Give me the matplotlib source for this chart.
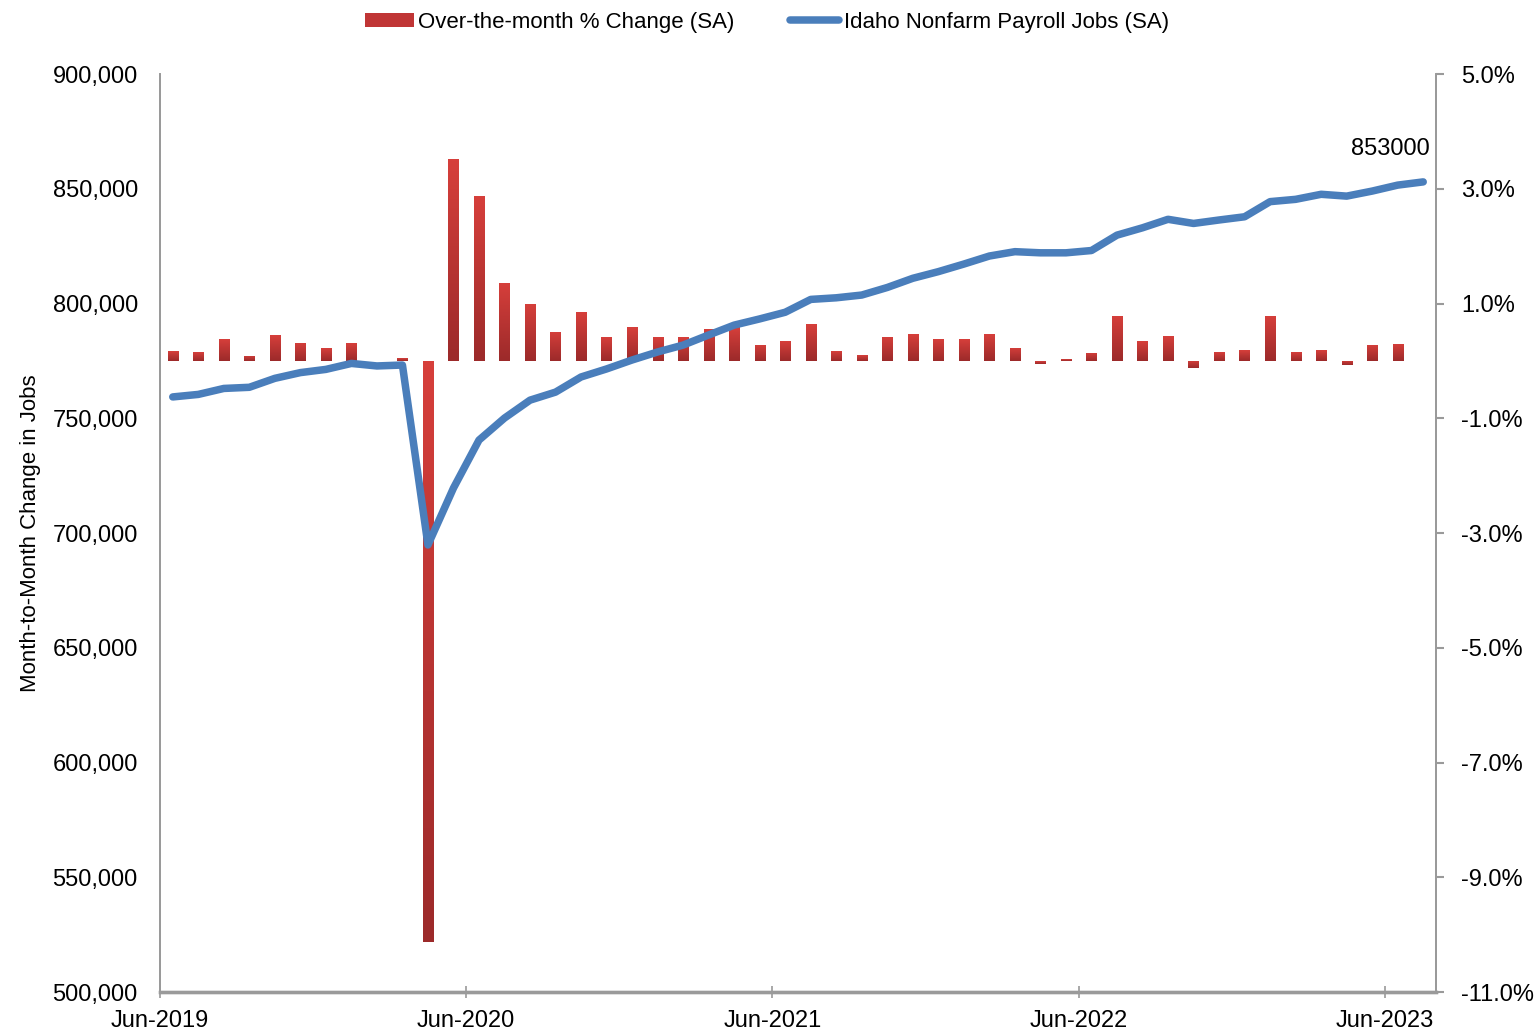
import numpy as np
import pandas as pd
import matplotlib
matplotlib.use("Agg")
import matplotlib.pyplot as plt
from matplotlib.ticker import FuncFormatter
from matplotlib.colors import LinearSegmentedColormap

plt.rcParams['font.family'] = ['Liberation Sans', 'DejaVu Sans']

# monthly series, Jun-2019 .. Jul-2023
months = pd.date_range("2019-06-01", periods=50, freq="MS")

jobs = [759300, 760400, 763000, 763500, 767400, 769900, 771300, 773900, 772800, 773200,
        694800, 719600, 740500, 750100, 757900, 761400, 768000, 771500, 775400, 778900,
        781900, 786300, 790600, 793300, 796200, 801800, 802500, 803700, 807000, 811000,
        813900, 817200, 820700, 822600, 822100, 822100, 823100, 829800, 833000, 836700,
        834900, 836400, 837800, 844400, 845400, 847600, 846800, 849000, 851600, 853000]

pct_change = [0.17, 0.15, 0.38, 0.09, 0.45, 0.32, 0.22, 0.31, 0.0, 0.05,
              -10.13, 3.52, 2.87, 1.36, 1.00, 0.51, 0.85, 0.41, 0.59, 0.41,
              0.41, 0.55, 0.59, 0.28, 0.34, 0.64, 0.17, 0.10, 0.42, 0.47,
              0.38, 0.38, 0.47, 0.23, -0.05, 0.03, 0.14, 0.79, 0.34, 0.43,
              -0.13, 0.15, 0.19, 0.79, 0.15, 0.19, -0.08, 0.28, 0.30, np.nan]

tick_months = ["Jun-2019", "Jun-2020", "Jun-2021", "Jun-2022", "Jun-2023"]

x = np.arange(len(months))
tick_pos = [months.get_loc(pd.Timestamp(m)) - 0.5 for m in
            ["2019-06-01", "2020-06-01", "2021-06-01", "2022-06-01", "2023-06-01"]]

fig = plt.figure(figsize=(15.34, 10.34), dpi=100)
ax = fig.add_axes([0.1043, 0.0406, 0.8318, 0.8878])
ax2 = ax.twinx()

bar_color = '#C03535'
line_color = '#4A7EBB'
spine_color = '#9A9A9A'

bars = ax2.bar(x, pct_change, width=0.4, color=bar_color, zorder=2,
               label='Over-the-month % Change (SA)')

# top-to-bottom shading on each bar, light red -> dark red
grad = LinearSegmentedColormap.from_list('bar', ['#D63F3B', '#9C2A2A'])
for b in bars:
    h = b.get_height()
    if np.isnan(h) or h == 0:
        continue
    x0, y0 = b.get_x(), b.get_y()
    lo, hi = min(y0, y0 + h), max(y0, y0 + h)
    b.set_facecolor('none')
    b.set_edgecolor('none')
    im = ax2.imshow(np.linspace(0, 1, 64).reshape(-1, 1), cmap=grad, aspect='auto',
                    extent=(x0, x0 + b.get_width(), lo, hi), origin='upper',
                    zorder=2, interpolation='bilinear')
    im.set_clip_path(b)

line, = ax.plot(x, jobs, color=line_color, lw=5.4, solid_capstyle='round',
                solid_joinstyle='round', label='Idaho Nonfarm Payroll Jobs (SA)')

# line above bars
ax.set_zorder(ax2.get_zorder() + 1)
ax.patch.set_visible(False)

ax.set_xlim(-0.5, len(months) - 0.5)
ax.set_ylim(500000, 900000)
ax.set_yticks(np.arange(500000, 900001, 50000))
ax.yaxis.set_major_formatter(FuncFormatter(lambda v, p: f"{int(v):,}"))
ax2.set_xlim(-0.5, len(months) - 0.5)
ax2.set_ylim(-11, 5)
ax2.set_yticks(np.arange(-11, 5.1, 2))
ax2.yaxis.set_major_formatter(FuncFormatter(lambda v, p: f"{v:.1f}%"))

ax.set_xticks(tick_pos)
ax.set_xticklabels(tick_months)

for a in (ax, ax2):
    a.spines['top'].set_visible(False)
    a.spines['left'].set_color(spine_color)
    a.spines['right'].set_color(spine_color)
    a.spines['left'].set_linewidth(1.3)
    a.spines['right'].set_linewidth(1.3)
    a.spines['bottom'].set_color(spine_color)
    a.spines['bottom'].set_linewidth(2.4)

ax.tick_params(axis='y', length=0, pad=16, labelsize=17)
ax.tick_params(axis='x', direction='inout', length=8, width=1.2, color=spine_color,
               pad=9, labelsize=17)
ax2.tick_params(axis='y', length=6, width=1.5, color=spine_color, pad=12, labelsize=17)

ax.set_ylabel('Month-to-Month Change in Jobs', fontsize=16, labelpad=8)

ax.annotate(f"{jobs[-1]}", xy=(x[-1], jobs[-1]), xytext=(5, 16),
            textcoords='offset points', ha='right', va='bottom', fontsize=17)

leg_bar = plt.Rectangle((0, 0), 1, 1, facecolor=bar_color, edgecolor='none')
fig.legend(handles=[leg_bar, line],
           labels=['Over-the-month % Change (SA)', 'Idaho Nonfarm Payroll Jobs (SA)'],
           loc='upper center', bbox_to_anchor=(0.5, 1.008),
           ncol=2, frameon=False, fontsize=16, handlelength=2.2, handleheight=0.6,
           handletextpad=0.2, columnspacing=2.5)

fig.savefig('out.png', dpi=100)
